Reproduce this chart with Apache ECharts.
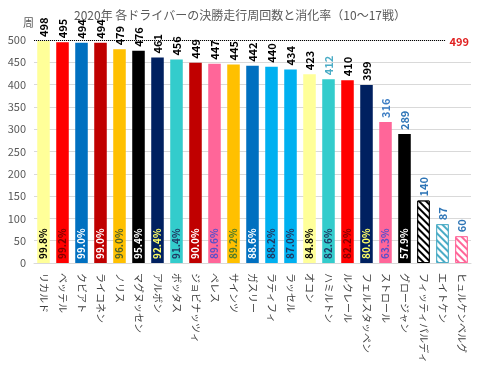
<!DOCTYPE html>
<html><head><meta charset="utf-8">
<script src="https://cdn.jsdelivr.net/npm/echarts@6/dist/echarts.min.js"></script>
<style>html,body{margin:0;padding:0;background:#fff}#c{width:480px;height:366px}</style>
</head><body><div id="c"></div>
<script>
var drivers = ['リカルド','ベッテル','クビアト','ライコネン','ノリス','マグヌッセン','アルボン','ボッタス','ジョビナッツィ','ペレス','サインツ','ガスリー','ラティフィ','ラッセル','オコン','ハミルトン','ルクレール','フェルスタッペン','ストロール','グロージャン','フィッティパルディ','エイトケン','ヒュルケンベルグ'];
var laps = [498,495,494,494,479,476,461,456,449,447,445,442,440,434,423,412,410,399,316,289,140,87,60];
var rates = ['99.8%','99.2%','99.0%','99.0%','96.0%','95.4%','92.4%','91.4%','90.0%','89.6%','89.2%','88.6%','88.2%','87.0%','84.8%','82.6%','82.2%','80.0%','63.3%','57.9%','','',''];
var maxLaps = 499;
var yTicks = [0,50,100,150,200,250,300,350,400,450,500];

var barColors = ['#FFFF99','#FF0000','#0070C0','#C00000','#FFC000','#000000','#002060','#33CCCC','#C00000','#FF6699','#FFC000','#0070C0','#00B0F0','#00B0F0','#FFFF99','#33CCCC','#FF0000','#002060','#FF6699','#000000','#000000','#4BACC6','#FF6699'];
var hatched = [false,false,false,false,false,false,false,false,false,false,false,false,false,false,false,false,false,false,false,false,true,true,true];
var topLabelColors = ['#000','#000','#000','#000','#000','#000','#000','#000','#000','#000','#000','#000','#000','#000','#000','#4BACC6','#000','#000','#3C7DC4','#2E75B6','#2E75B6','#2E75B6','#2E75B6'];
var rateColors = ['#000','#800000','#fff','#fff','#4F6228','#fff','#FFFF66','#1F3864','#fff','#5B4FC8','#4F7A28','#fff','#1F3864','#1F3864','#000','#1F3864','#800000','#FFFF66','#5B4FC8','#fff','#000','#000','#000'];

var font = '"Noto Sans CJK JP", "Noto Sans", sans-serif';

var mainData = laps.map(function(v,i){
  var it = {value: v, itemStyle: {color: barColors[i]},
    label: {show: rates[i] !== '', position: 'insideBottom', rotate: 90, align: 'left', verticalAlign: 'middle', distance: 4,
      fontSize: 10, fontWeight: 'bold', fontFamily: font, color: rateColors[i], formatter: rates[i]}};
  if (hatched[i]) {
    it.itemStyle = {
      color: '#fff', borderColor: barColors[i], borderWidth: 1,
      decal: {symbol: 'rect', symbolSize: 1, dashArrayX: [1,0], dashArrayY: [2,2.5], rotation: Math.PI/4, color: barColors[i], backgroundColor: '#fff'}
    };
  }
  return it;
});
var topData = laps.map(function(v,i){ return [i, v]; });

var chart = echarts.init(document.getElementById('c'), null, {renderer: 'canvas'});
chart.setOption({
  animation: false,
  textStyle: {fontFamily: font},
  title: {text: '2020年 各ドライバーの決勝走行周回数と消化率（10～17戦）', left: 'center', top: 4,
    textStyle: {fontFamily: font, fontSize: 12, fontWeight: 'normal', color: '#595959'}},
  grid: {left: 34, right: 9, top: 40, bottom: 94},
  xAxis: {type: 'category', data: drivers, boundaryGap: true,
    axisLine: {lineStyle: {color: '#D9D9D9'}}, axisTick: {show: false},
    axisLabel: {rotate: -90, interval: 0, fontSize: 10, color: '#404040', margin: 10, fontFamily: font}},
  yAxis: {type: 'value', min: 0, max: 500, interval: 50, name: '周', nameGap: 12,
    nameTextStyle: {color: '#595959', fontSize: 11, align: 'right', padding: [0, 0, 0, 0]},
    axisLine: {show: false}, axisTick: {show: false},
    axisLabel: {color: '#595959', fontSize: 11, margin: 8, formatter: function(v){ return yTicks.indexOf(v) >= 0 ? String(v) : ''; }},
    splitLine: {lineStyle: {color: '#D9D9D9'}}},
  series: [
    {type: 'bar', data: mainData, barWidth: '66%',
      markLine: {silent: true, symbol: 'none',
        lineStyle: {type: 'dotted', color: '#000', width: 1},
        label: {formatter: String(maxLaps), position: 'insideEndTop', distance: [0, -7], color: '#E02020', fontWeight: 'bold', fontSize: 11, backgroundColor: '#fff', padding: [0, 2, 0, 4]},
        data: [{yAxis: maxLaps}]}
    },
    {type: 'custom', data: topData, silent: true, z: 5, clip: false,
      encode: {x: 0, y: 1},
      renderItem: function(params, api){
        var idx = params.dataIndex;
        var p = api.coord([api.value(0), api.value(1)]);
        return {type: 'text', x: p[0], y: p[1] - 4, rotation: Math.PI / 2,
          style: {text: String(laps[idx]), fill: topLabelColors[idx], fontSize: 11, fontWeight: 'bold', fontFamily: font,
            align: 'left', verticalAlign: 'middle'}};
      }
    }
  ]
});
</script></body></html>
